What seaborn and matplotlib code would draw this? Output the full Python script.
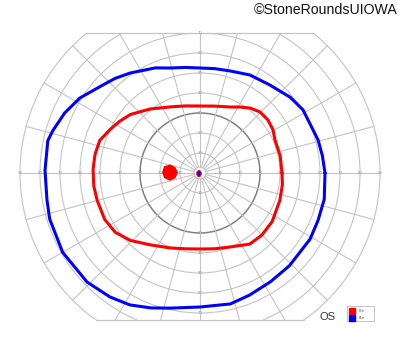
import numpy as np
import matplotlib
matplotlib.use("Agg")
import matplotlib.pyplot as plt
import matplotlib.patches as mpatches
import seaborn as sns

sns.set_theme(style="white")
plt.rcParams['font.family'] = ['Liberation Sans', 'DejaVu Sans']

# ---- data (degrees of visual field) ----
ring_degrees = [10, 20, 30, 40, 50, 60, 70, 80, 90]
meridian_step = 15
horizontal_labels = [10, 20, 30, 40, 50, 60, 70, 80, 90]
vertical_labels = [10, 20, 30, 40, 50, 60, 70]

# I2e isopter: meridian angle (deg, 0 = right, counter-clockwise) and eccentricity
i2e_angle = [0, 12, 24, 30.5, 38, 45.5, 52.4, 59, 65, 78, 90, 102, 114, 128, 140, 147, 154, 162, 170, 178,
             187, 195, 206, 215, 224, 235, 248, 259, 270, 281, 292, 305, 315, 326, 341, 352, 360]
i2e_ecc = [41, 41, 41, 42.4, 43.1, 42.8, 41, 38.5, 36.4, 34.2, 33.5, 34.3, 36.2, 40.6, 45.5, 47.7, 49.9, 52.7, 53.3, 53.5,
           53.5, 53.2, 53, 51.7, 48.5, 43.8, 40.4, 38.6, 38, 38.6, 39.9, 43.4, 43.8, 43.5, 42.2, 41.6, 41]

# I4e isopter
i4e_angle = [0, 8, 15.6, 20.8, 31.5, 40, 51.5, 63, 73.6, 82, 90, 98, 106, 113, 125, 132, 139, 148, 156, 164, 168,
             179, 190, 197, 210, 224, 234, 242, 250, 257.5, 270, 283, 292, 303, 314, 329, 338, 348, 360]
i4e_ecc = [62.5, 61.8, 61.3, 60.5, 60.4, 58.9, 56.2, 55, 53.2, 52.7, 52.5, 53.3, 54.6, 57.1, 61, 63.6, 66, 70.8, 74, 76.6, 77.8,
           77.5, 77.7, 78.6, 79.3, 78.5, 76.6, 74.7, 71.8, 69.2, 67, 67.2, 65.9, 64.8, 64.4, 64.2, 63.6, 63.5, 62.5]

# blind spot (I2e) centre and outline radius
blind_spot_center = (-15, 0.3)
blind_spot_radius = [3.6, 3.4, 3.6, 3.9, 3.6, 3.7, 3.8, 3.6]

legend_labels = ["I2e", "I4e"]
legend_colors = ["#ff0000", "#0000ff"]
eye_label = "OS"
copyright_text = "©StoneRoundsUIOWA"

top_limit = 70
bottom_limit = -73.5

# ---- figure ----
fig = plt.figure(figsize=(4.0, 3.52), dpi=100)
ax = fig.add_axes([0, 0, 1, 1])
ax.set_xlim(-100, 100)
ax.set_ylim(-89.5, 86.5)
ax.set_aspect('equal')
ax.axis('off')

clip = mpatches.Rectangle((-95, bottom_limit), 190, top_limit - bottom_limit,
                          transform=ax.transData, fill=False, visible=False)
ax.add_patch(clip)

grid_c = "#c4c4c4"
for r in ring_degrees:
    col = "#808080" if r == 30 else grid_c
    lw = 1.1 if r == 30 else 0.8
    c = mpatches.Circle((0, 0), r, fill=False, ec=col, lw=lw, zorder=1)
    ax.add_patch(c)
    c.set_clip_path(clip)
ax.add_patch(mpatches.Circle((0, 0), 3, fill=False, ec=grid_c, lw=0.8, zorder=1))

outer = max(ring_degrees)
for a in range(0, 360, meridian_step):
    t = np.deg2rad(a)
    ln, = ax.plot([3 * np.cos(t), outer * np.cos(t)], [3 * np.sin(t), outer * np.sin(t)],
                  color=grid_c, lw=0.8, zorder=1)
    ln.set_clip_path(clip)

# top and bottom frame lines
for yv in (top_limit, bottom_limit):
    half = np.sqrt(outer ** 2 - yv ** 2)
    ax.plot([-half, half], [yv, yv], color=grid_c, lw=0.9, zorder=1)

# tick numbers
for v in horizontal_labels:
    for s in (-1, 1):
        ax.text(s * v, 0, str(v), fontsize=3.2, color="#999999", ha='center', va='center', zorder=2)
for v in vertical_labels:
    for s in (-1, 1):
        ax.text(0, s * v, str(v), fontsize=3.2, color="#999999", ha='center', va='center', zorder=2)

# isopters
def to_xy(angles, ecc):
    t = np.deg2rad(np.asarray(angles, float))
    e = np.asarray(ecc, float)
    return e * np.cos(t), e * np.sin(t)

x2, y2 = to_xy(i2e_angle, i2e_ecc)
x4, y4 = to_xy(i4e_angle, i4e_ecc)
sns.lineplot(x=x2, y=y2, sort=False, estimator=None, color=legend_colors[0], lw=2.2, ax=ax, zorder=3)
sns.lineplot(x=x4, y=y4, sort=False, estimator=None, color=legend_colors[1], lw=2.2, ax=ax, zorder=3)
for ln in ax.lines[-2:]:
    ln.set_solid_joinstyle('round')

# blind spot
bs_ang = np.linspace(0, 360, len(blind_spot_radius), endpoint=False)
bx, by = to_xy(bs_ang, blind_spot_radius)
ax.fill(bx + blind_spot_center[0], by + blind_spot_center[1], color=legend_colors[0], zorder=3)

# fixation mark
ax.add_patch(mpatches.Ellipse((-0.5, -0.3), 2.2, 3.0, fc=legend_colors[1], ec=legend_colors[0], lw=0.8, zorder=4))

# legend box
lx, ly = 73.5, -66.5
ax.add_patch(mpatches.Rectangle((lx, ly - 7.5), 13.5, 7.5, fill=False, ec="#bbbbbb", lw=0.6, zorder=4))
for i, (lab, col) in enumerate(zip(legend_labels, legend_colors)):
    yy = ly - 1.2 - i * 3.5
    ax.add_patch(mpatches.Rectangle((lx + 1.2, yy - 2.6), 2.6, 2.6, color=col, zorder=5))
    ax.text(lx + 6, yy - 1.3, lab, fontsize=3.2, color="#555555", va='center', ha='left', zorder=5)

ax.text(63.5, -72, eye_label, fontsize=8, color="#333333", ha='center', va='center')
ax.text(99, 81.5, copyright_text, fontsize=10.2, color="#111111", ha='right', va='center')

fig.savefig("out.png", dpi=100)
